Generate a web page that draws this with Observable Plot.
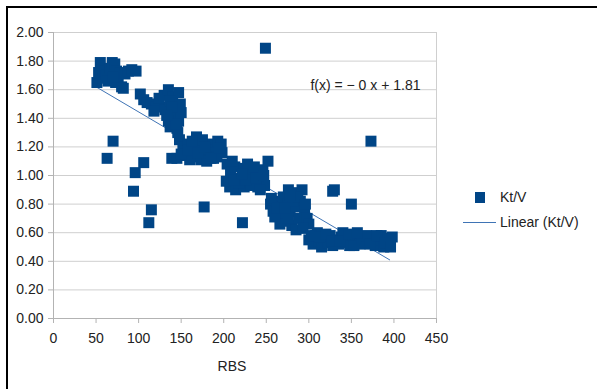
<!DOCTYPE html>
<html><head><meta charset="utf-8">
<script src="https://cdn.jsdelivr.net/npm/d3@7"></script>
<script src="https://cdn.jsdelivr.net/npm/@observablehq/plot@0.6"></script>
<style>
body{margin:0;width:597px;height:389px;overflow:hidden;background:#fff;font-family:"Liberation Sans",Arial,sans-serif;}
#wrap{position:relative;width:597px;height:389px;overflow:hidden;}
#chart{position:absolute;left:0;top:0;}
#border{position:absolute;left:6px;top:6px;width:700px;height:500px;border-top:2px solid #000;border-left:2px solid #000;}
.lg{position:absolute;font-size:14px;line-height:16px;color:#222;white-space:nowrap;}
</style>
</head><body>
<div id="wrap">
  <div id="chart"></div>
  <div id="border"></div>
  <div id="legend"></div>
</div>
<script>
// Kt/V vs RBS
const rbs = [
  51,53,55,56,58,60,62,66,69,72,74,76,78,73,80,82,84,88,92,97,64,70,
  102,106,110,115,120,126,124,130,118,
  135,140,147,131,137,143,149,135,141,147,137,145,150,146,139,144,133,
  148,152,158,162,168,172,178,182,188,193,198,139,145,155,160,166,173,180,188,197,155,185,165,175,192,150,158,170,178,185,195,163,
  204,208,213,219,224,229,234,239,244,248,207,214,224,232,240,246,252,203,218,243,210,228,236,212,226,238,222,247,
  255,258,262,265,268,270,272,275,278,280,283,285,288,290,292,295,298,276,266,285,300,260,293,276,256,263,281,287,272,296,278,
  300,305,308,312,315,318,322,325,328,332,335,338,342,345,348,352,355,358,365,370,375,378,382,385,388,392,395,398,310,340,360,
  303,313,320,327,337,347,353,362,368,372,380,390,396,357,
  249,63,70,96,106,94,115,112,177,222,328,330,350,373
];
const ktv = [
  1.65,1.72,1.79,1.74,1.68,1.73,1.70,1.75,1.79,1.78,1.73,1.66,1.72,1.65,1.62,1.61,1.71,1.73,1.74,1.73,1.66,1.69,
  1.57,1.53,1.51,1.50,1.48,1.48,1.54,1.56,1.45,
  1.60,1.55,1.58,1.46,1.52,1.44,1.50,1.38,1.42,1.38,1.34,1.33,1.44,1.30,1.48,1.36,1.42,
  1.25,1.20,1.22,1.17,1.27,1.20,1.15,1.22,1.18,1.24,1.16,1.12,1.12,1.14,1.11,1.13,1.11,1.10,1.12,1.22,1.17,1.16,1.20,1.25,1.13,1.15,1.18,1.16,1.20,1.12,1.19,1.24,
  1.08,1.02,1.06,0.98,1.05,1.00,0.95,1.02,0.97,0.93,0.92,0.90,0.92,0.93,0.92,1.04,1.10,0.96,0.95,0.90,1.10,1.08,1.06,0.97,0.97,0.98,1.01,1.00,
  0.80,0.75,0.82,0.72,0.78,0.85,0.68,0.80,0.75,0.65,0.88,0.78,0.70,0.82,0.90,0.75,0.70,0.90,0.66,0.62,0.66,0.71,0.63,0.70,0.84,0.77,0.82,0.85,0.77,0.80,0.86,
  0.55,0.52,0.58,0.54,0.50,0.56,0.53,0.58,0.51,0.55,0.52,0.57,0.53,0.56,0.51,0.58,0.54,0.57,0.53,0.55,0.57,0.51,0.55,0.58,0.50,0.56,0.53,0.57,0.60,0.60,0.52,
  0.58,0.57,0.59,0.54,0.54,0.59,0.51,0.56,0.58,0.52,0.58,0.53,0.50,0.60,
  1.89,1.12,1.24,1.02,1.09,0.89,0.76,0.67,0.78,0.67,0.89,0.90,0.80,1.24
];
// trend line endpoints
const trendX = [50, 395];
const trendY = [1.62, 0.41];
const equation = "f(x) = \u2212 0 x + 1.81";
const xTicks = [0,50,100,150,200,250,300,350,400,450];
const yTicks = [0,0.2,0.4,0.6,0.8,1.0,1.2,1.4,1.6,1.8,2.0];
const seriesName = "Kt/V";
const trendName = "Linear (Kt/V)";
const xTitle = "RBS";

const points = rbs.map((x,i)=>({x, y: ktv[i]}));
const trend = trendX.map((x,i)=>({x, y: trendY[i]}));
const blue = "#004586";
const lineBlue = "#3f74b5";

const plot = Plot.plot({
  width: 597, height: 389,
  marginLeft: 53, marginRight: 161, marginTop: 32, marginBottom: 71,
  style: {fontFamily: "Liberation Sans, Arial, sans-serif", fontSize: "14px", color: "#222", background: "transparent"},
  x: {domain: [0, 450], label: null},
  y: {domain: [0, 2], label: null},
  marks: [
    Plot.ruleY(yTicks.filter(d => d > 0), {stroke: "#cfcfcf"}),
    Plot.ruleX([450], {stroke: "#cfcfcf"}),
    Plot.ruleY([0], {stroke: "#b3b3b3"}),
    Plot.ruleX([0], {stroke: "#b3b3b3"}),
    Plot.axisX({ticks: xTicks, tickSize: 5, tickPadding: 10, stroke: "#b3b3b3", fill: "#222", label: null, tickFormat: d => String(d)}),
    Plot.axisY({ticks: yTicks, tickSize: 5, tickPadding: 5, stroke: "#b3b3b3", fill: "#222", label: null, tickFormat: d3.format(".2f")}),
    Plot.line(trend, {x: "x", y: "y", stroke: lineBlue, strokeWidth: 1}),
    Plot.dot(points, {x: "x", y: "y", symbol: "square", r: 6.2, fill: blue, stroke: "none"}),
    Plot.text([equation], {frameAnchor: "top-right", dx: -16, dy: 48, textAnchor: "end", fontSize: 14, fill: "#222"}),
    Plot.text([xTitle], {frameAnchor: "bottom", dy: 52, dx: -13, fontSize: 14, fill: "#222"})
  ]
});
document.getElementById("chart").appendChild(plot);

const lg = document.getElementById("legend");
lg.innerHTML =
  `<div style="position:absolute;left:475px;top:192px;width:10px;height:11px;background:${blue}"></div>` +
  `<div class="lg" style="left:500px;top:189px">${seriesName}</div>` +
  `<div style="position:absolute;left:463px;top:222px;width:33px;height:1px;background:${lineBlue}"></div>` +
  `<div class="lg" style="left:500px;top:214px">${trendName}</div>`;
</script>
</body></html>
